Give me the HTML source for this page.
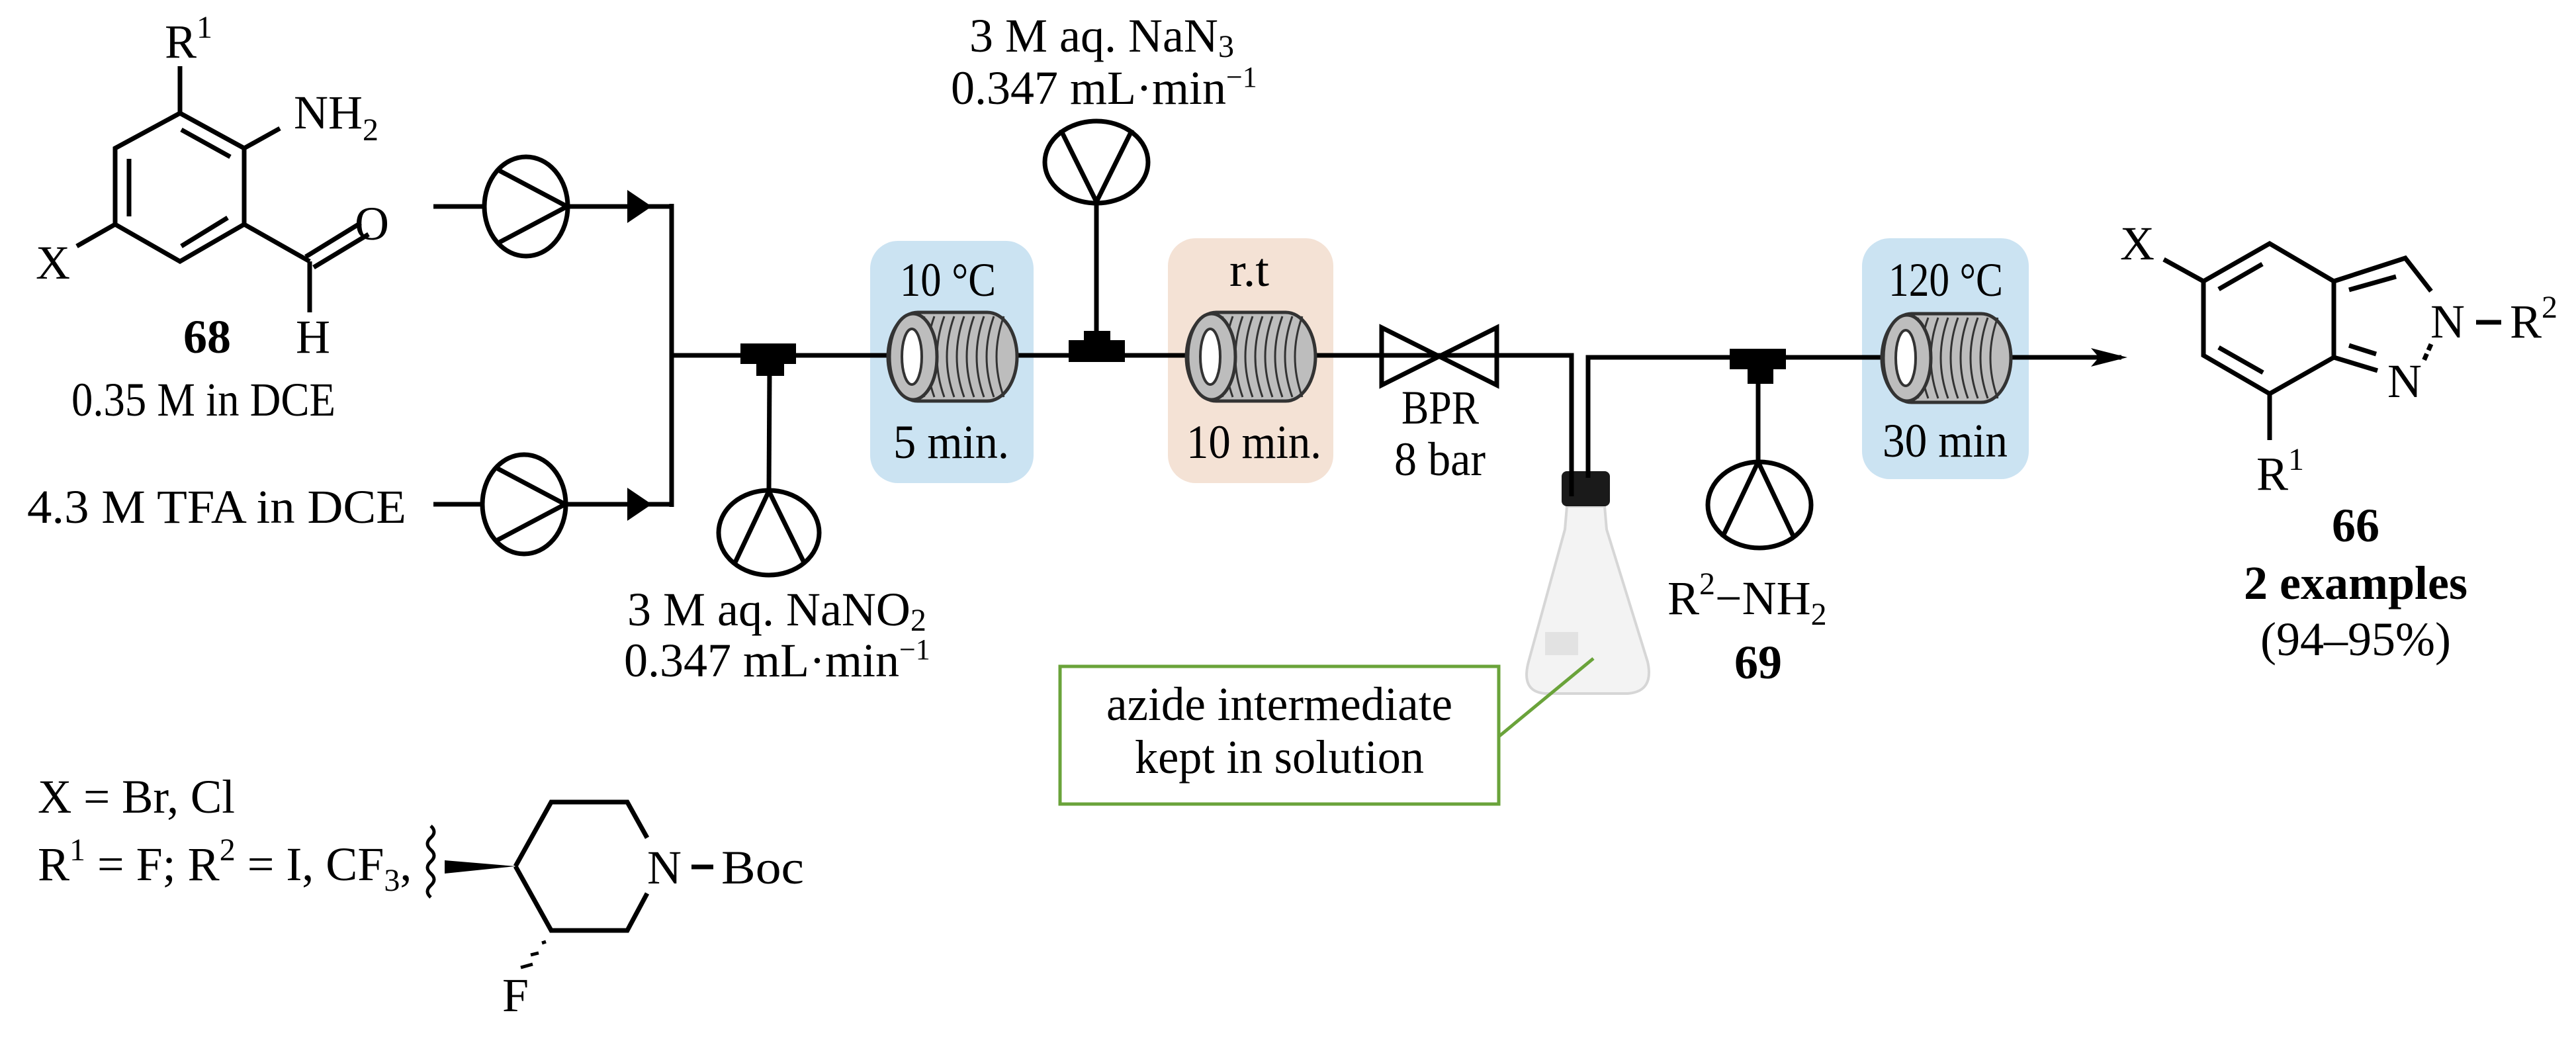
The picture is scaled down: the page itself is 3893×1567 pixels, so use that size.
<!DOCTYPE html>
<html><head><meta charset="utf-8"><style>
html,body{margin:0;padding:0;background:#fff;}
svg{display:block;}
text{font-family:"Liberation Serif",serif;fill:#000;}
</style></head><body>
<svg width="3893" height="1567" viewBox="0 0 3893 1567" xmlns="http://www.w3.org/2000/svg">
<defs>
<g id="coil">
  <!-- drawn around origin: width 195, height 134 -->
  <rect x="0" y="0" width="195" height="134" rx="45" ry="67" fill="#bdbdbd" stroke="#333" stroke-width="5"/>
  <path d="M40 6 q-22 61 0 122 M55 6 q-22 61 0 122 M70 6 q-22 61 0 122 M85 6 q-22 61 0 122 M100 6 q-22 61 0 122 M115 6 q-22 61 0 122 M130 6 q-22 61 0 122 M145 6 q-22 61 0 122 M160 6 q-22 61 0 122 M175 6 q-22 61 0 122" fill="none" stroke="#333" stroke-width="3"/>
  <ellipse cx="38" cy="67" rx="36" ry="65" fill="#bdbdbd" stroke="#333" stroke-width="5"/>
  <ellipse cx="36" cy="67" rx="15" ry="42" fill="#fff" stroke="#333" stroke-width="4"/>
</g>
</defs>

<g stroke="#000" stroke-width="7" fill="none" stroke-linecap="butt">
<!-- benzaldehyde 68 -->
<polyline points="272,100 272,171"/>
<polygon points="272,171 369,224 369,339 272,395 174,339 174,224"/>
<line x1="195" y1="240" x2="195" y2="327"/>
<line x1="274" y1="196" x2="348" y2="237"/>
<line x1="274" y1="372" x2="344" y2="329"/>
<line x1="369" y1="224" x2="423" y2="194"/>
<line x1="174" y1="339" x2="116" y2="372"/>
<line x1="369" y1="339" x2="468" y2="395"/>
<line x1="462" y1="388" x2="545" y2="337"/>
<line x1="474" y1="404" x2="557" y2="354"/>
<line x1="468" y1="395" x2="468" y2="472"/>

<!-- pump 1 -->
<line x1="655" y1="312" x2="733" y2="312"/>
<ellipse cx="795" cy="312" rx="63" ry="75"/>
<polyline points="755,258 857,312 755,366"/>
<line x1="857" y1="312" x2="1015" y2="312"/>
<!-- pump 2 -->
<line x1="655" y1="762" x2="730" y2="762"/>
<ellipse cx="792" cy="762" rx="63" ry="75"/>
<polyline points="752,708 854,762 752,816"/>
<line x1="854" y1="762" x2="1015" y2="762"/>
<line x1="1015" y1="308" x2="1015" y2="766"/>
<line x1="1015" y1="537" x2="2262" y2="537"/>
<!-- NaNO2 pump -->
<line x1="1163" y1="560" x2="1162" y2="742"/>
<ellipse cx="1162" cy="805" rx="76" ry="64"/>
<polyline points="1110,852 1162,742 1216,852"/>
<!-- NaN3 pump -->
<line x1="1657" y1="305" x2="1657" y2="510"/>
<ellipse cx="1657" cy="245" rx="78" ry="62"/>
<polyline points="1603,196 1657,305 1711,196"/>
<!-- BPR to flask -->
<polygon points="2088,495 2262,582 2262,495 2088,582"/>
<polyline points="2262,537 2375,537 2375,750"/>
<polyline points="2400,750 2400,540 3206,540"/>
<!-- R2NH2 pump -->
<line x1="2657" y1="560" x2="2657" y2="698"/>
<ellipse cx="2659" cy="763" rx="78" ry="65"/>
<polyline points="2603,812 2657,698 2711,812"/>
</g>

<!-- arrowheads -->
<polygon points="948,287 985,312 948,337" fill="#000"/>
<polygon points="948,737 985,762 948,787" fill="#000"/>
<polygon points="3160,526 3215,540 3160,554 3172,540" fill="#000"/>

<!-- tees -->
<rect x="1119" y="519" width="84" height="31" fill="#000"/>
<rect x="1143" y="540" width="42" height="28" fill="#000"/>
<rect x="1615" y="514" width="85" height="33" fill="#000"/>
<rect x="1638" y="500" width="40" height="20" fill="#000"/>
<rect x="2614" y="527" width="85" height="31" fill="#000"/>
<rect x="2641" y="550" width="39" height="30" fill="#000"/>

<!-- boxes -->
<rect x="1315" y="364" width="247" height="366" rx="42" fill="#cbe3f2"/>
<rect x="1765" y="360" width="250" height="370" rx="42" fill="#f4e2d5"/>
<rect x="2814" y="360" width="252" height="364" rx="42" fill="#cbe3f2"/>
<line x1="1315" y1="537" x2="1562" y2="537" stroke="#000" stroke-width="7"/>
<line x1="1765" y1="537" x2="2015" y2="537" stroke="#000" stroke-width="7"/>
<line x1="2814" y1="540" x2="3066" y2="540" stroke="#000" stroke-width="7"/>
<use href="#coil" x="1342" y="472"/>
<use href="#coil" x="1793" y="472"/>
<use href="#coil" x="2844" y="474"/>

<!-- flask -->
<path d="M2368 765 L2425 765 L2428 800 L2490 1000 Q2500 1045 2460 1048 L2335 1048 Q2298 1045 2310 1000 L2365 800 Z" fill="#f3f3f3" stroke="#d6d6d6" stroke-width="4"/>
<rect x="2335" y="955" width="50" height="35" fill="#e2e2e2"/>
<rect x="2360" y="712" width="73" height="53" rx="8" fill="#1a1a1a"/>
<line x1="2375" y1="700" x2="2375" y2="750" stroke="#000" stroke-width="7"/>
<line x1="2400" y1="700" x2="2400" y2="722" stroke="#000" stroke-width="7"/>

<!-- green callout -->
<rect x="1602" y="1007" width="663" height="208" fill="#fff" stroke="#6aa33a" stroke-width="5"/>
<line x1="2265" y1="1113" x2="2408" y2="995" stroke="#6aa33a" stroke-width="5"/>

<!-- text -->
<g font-size="72">
<text x="249" y="87">R<tspan font-size="48" dy="-30">1</tspan></text>
<text x="444" y="194">NH<tspan font-size="48" dy="18">2</tspan></text>
<text x="54" y="421">X</text>
<text x="536" y="362">O</text>
<text x="447" y="533">H</text>
<text x="313" y="533" text-anchor="middle" font-weight="bold">68</text>
<text x="108" y="628" textLength="399" lengthAdjust="spacingAndGlyphs">0.35 M in DCE</text>
<text x="41" y="790" textLength="573" lengthAdjust="spacingAndGlyphs">4.3 M TFA in DCE</text>

<text x="1465" y="78">3 M aq. NaN<tspan font-size="48" dy="8">3</tspan></text>
<text x="1437" y="157">0.347 mL·min<tspan font-size="44" dy="-26">−1</tspan></text>
<text x="948" y="945">3 M aq. NaNO<tspan font-size="48" dy="8">2</tspan></text>
<text x="943" y="1022">0.347 mL·min<tspan font-size="44" dy="-26">−1</tspan></text>

<text x="1360" y="447" textLength="145" lengthAdjust="spacingAndGlyphs">10 °C</text>
<text x="1350" y="692" textLength="175" lengthAdjust="spacingAndGlyphs">5 min.</text>
<text x="1858" y="432" textLength="60" lengthAdjust="spacingAndGlyphs">r.t</text>
<text x="1793" y="692" textLength="204" lengthAdjust="spacingAndGlyphs">10 min.</text>
<text x="2118" y="640" textLength="117" lengthAdjust="spacingAndGlyphs">BPR</text>
<text x="2107" y="718" textLength="138" lengthAdjust="spacingAndGlyphs">8 bar</text>
<text x="1672" y="1088" textLength="523" lengthAdjust="spacingAndGlyphs">azide intermediate</text>
<text x="1715" y="1168" textLength="437" lengthAdjust="spacingAndGlyphs">kept in solution</text>
<text x="2854" y="447" textLength="173" lengthAdjust="spacingAndGlyphs">120 °C</text>
<text x="2845" y="690" textLength="189" lengthAdjust="spacingAndGlyphs">30 min</text>

<text x="2520" y="928">R<tspan font-size="48" dy="-30">2</tspan><tspan dy="30">−NH</tspan><tspan font-size="48" dy="16">2</tspan></text>
<text x="2657" y="1025" text-anchor="middle" font-weight="bold">69</text>

<text x="57" y="1228" textLength="298" lengthAdjust="spacingAndGlyphs">X = Br, Cl</text>
<text x="57" y="1330">R<tspan font-size="48" dy="-30">1</tspan><tspan dy="30"> = F; R</tspan><tspan font-size="48" dy="-30">2</tspan><tspan dy="30"> = I, CF</tspan><tspan font-size="48" dy="16">3</tspan><tspan dy="-16">,</tspan></text>
<text x="978" y="1335">N</text>
<text x="1090" y="1335" textLength="125" lengthAdjust="spacingAndGlyphs">Boc</text>
<text x="759" y="1528">F</text>

<text x="3230" y="392" text-anchor="middle">X</text>
<text x="3699" y="510" text-anchor="middle">N</text>
<text x="3634" y="600" text-anchor="middle">N</text>
<text x="3793" y="510">R<tspan font-size="48" dy="-30">2</tspan></text>
<text x="3410" y="740">R<tspan font-size="48" dy="-30">1</tspan></text>
<text x="3560" y="818" text-anchor="middle" font-weight="bold">66</text>
<text x="3560" y="905" text-anchor="middle" font-weight="bold">2 examples</text>
<text x="3560" y="990" text-anchor="middle">(94–95%)</text>
</g>

<!-- piperidine -->
<g stroke="#000" stroke-width="7" fill="none">
<path d="M651 1248 q10 9 0 18 q-10 9 0 18 q10 9 0 18 q-10 9 0 18 q10 9 0 18 q-10 9 0 18" stroke-width="5"/>
<polyline points="779,1309 833,1212 948,1212 978,1266"/>
<polyline points="779,1309 833,1406 948,1406 978,1350"/>
<line x1="1045" y1="1310" x2="1078" y2="1310"/>
<line x1="819" y1="1425" x2="825" y2="1423" stroke-width="5"/>
<line x1="802" y1="1443" x2="814" y2="1440" stroke-width="5"/>
<line x1="787" y1="1462" x2="805" y2="1457" stroke-width="5"/>
</g>
<polygon points="672,1300 779,1309 672,1320" fill="#000"/>

<!-- product 66 -->
<g stroke="#000" stroke-width="7" fill="none">
<polygon points="3330,425 3430,368 3527,425 3527,540 3430,595 3330,537"/>
<line x1="3353" y1="437" x2="3419" y2="399"/>
<line x1="3353" y1="525" x2="3420" y2="563"/>
<polyline points="3527,425 3635,390 3674,440"/>
<line x1="3550" y1="438" x2="3621" y2="418"/>
<line x1="3527" y1="540" x2="3593" y2="560"/>
<line x1="3550" y1="522" x2="3591" y2="535"/>
<line x1="3674" y1="520" x2="3663" y2="545" stroke-dasharray="10,6"/>
<line x1="3742" y1="487" x2="3780" y2="487"/>
<line x1="3430" y1="595" x2="3430" y2="665"/>
<line x1="3270" y1="392" x2="3330" y2="425"/>
</g>
</svg>
</body></html>
